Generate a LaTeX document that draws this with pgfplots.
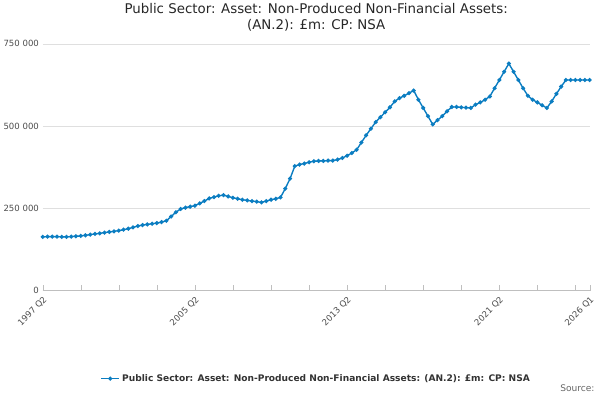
\documentclass[border=0pt]{standalone}
\usepackage{pgfplots}
\pgfplotsset{compat=1.18}
\usepackage{fontspec}
\setmainfont{DejaVu Sans}
\definecolor{ln}{HTML}{0B7DC1}
\begin{document}
\begin{tikzpicture}
\begin{axis}[
  width=510bp, height=230bp, scale only axis,
  xmin=0, xmax=115, ymin=0, ymax=750000,
  scaled y ticks=false,
  axis x line*=bottom, axis y line*=left,
  y axis line style={draw=none}, x axis line style={draw=gray!50},
  ytick={0,250000,500000,750000},
  yticklabels={0,250 000,500 000,750 000},
  yticklabel style={font=\fontsize{8}{9}\selectfont, text=black!70},
  ymajorgrids, grid style={gray!25},
  ytick style={draw=none},
  xtick={0,32,64,96,115},
  xticklabels={1997 Q2,2005 Q2,2013 Q2,2021 Q2,2026 Q1},
  minor xtick={8,16,24,40,48,56,72,80,88,104,112},
  xtick style={draw=gray!50}, minor tick length=5bp, major tick length=5bp,
  xticklabel style={font=\fontsize{8}{9}\selectfont, text=black!70, rotate=45, anchor=north east},
  title={Public Sector: Asset: Non-Produced Non-Financial Assets:\\(AN.2): £m: CP: NSA},
  title style={align=center, font=\fontsize{12.5}{15}\selectfont, text=black!85, yshift=2bp},
  legend style={at={(0.5,-0.33)}, anchor=north, draw=none, font=\bfseries\fontsize{8.5}{10}\selectfont, text=black!80, inner sep=0pt},
  legend cell align=left,
]
\addplot[ln, line width=1.3pt, mark=*, mark size=1.2pt] table[x index=0,y index=1] {
0 163000
1 164000
2 164000
3 164000
4 163000
5 163000
6 164000
7 165000
8 166000
9 168000
10 170000
11 172000
12 174000
13 176000
14 178000
15 180000
16 182000
17 185000
18 188000
19 192000
20 196000
21 199000
22 201000
23 203000
24 205000
25 208000
26 212000
27 225000
28 238000
29 248000
30 252000
31 255000
32 258000
33 265000
34 272000
35 280000
36 284000
37 288000
38 290000
39 286000
40 282000
41 279000
42 276000
43 274000
44 272000
45 270000
46 268000
47 272000
48 276000
49 279000
50 283000
51 310000
52 340000
53 378000
54 383000
55 386000
56 390000
57 393000
58 394000
59 394000
60 395000
61 395000
62 398000
63 403000
64 410000
65 418000
66 428000
67 450000
68 472000
69 492000
70 512000
71 527000
72 542000
73 557000
74 575000
75 585000
76 592000
77 600000
78 608000
79 580000
80 555000
81 530000
82 505000
83 518000
84 530000
85 545000
86 558000
87 558000
88 557000
89 556000
90 555000
91 565000
92 572000
93 580000
94 590000
95 615000
96 640000
97 665000
98 690000
99 665000
100 640000
101 615000
102 592000
103 580000
104 572000
105 563000
106 555000
107 575000
108 598000
109 620000
110 640000
111 640000
112 640000
113 640000
114 640000
115 640000
};
\addlegendentry{Public Sector: Asset: Non-Produced Non-Financial Assets: (AN.2): £m: CP: NSA}
\end{axis}
\node[anchor=north east, font=\fontsize{8.5}{10}\selectfont, text=black!60] at (518bp,-84bp) {Source:};
\end{tikzpicture}
\end{document}
